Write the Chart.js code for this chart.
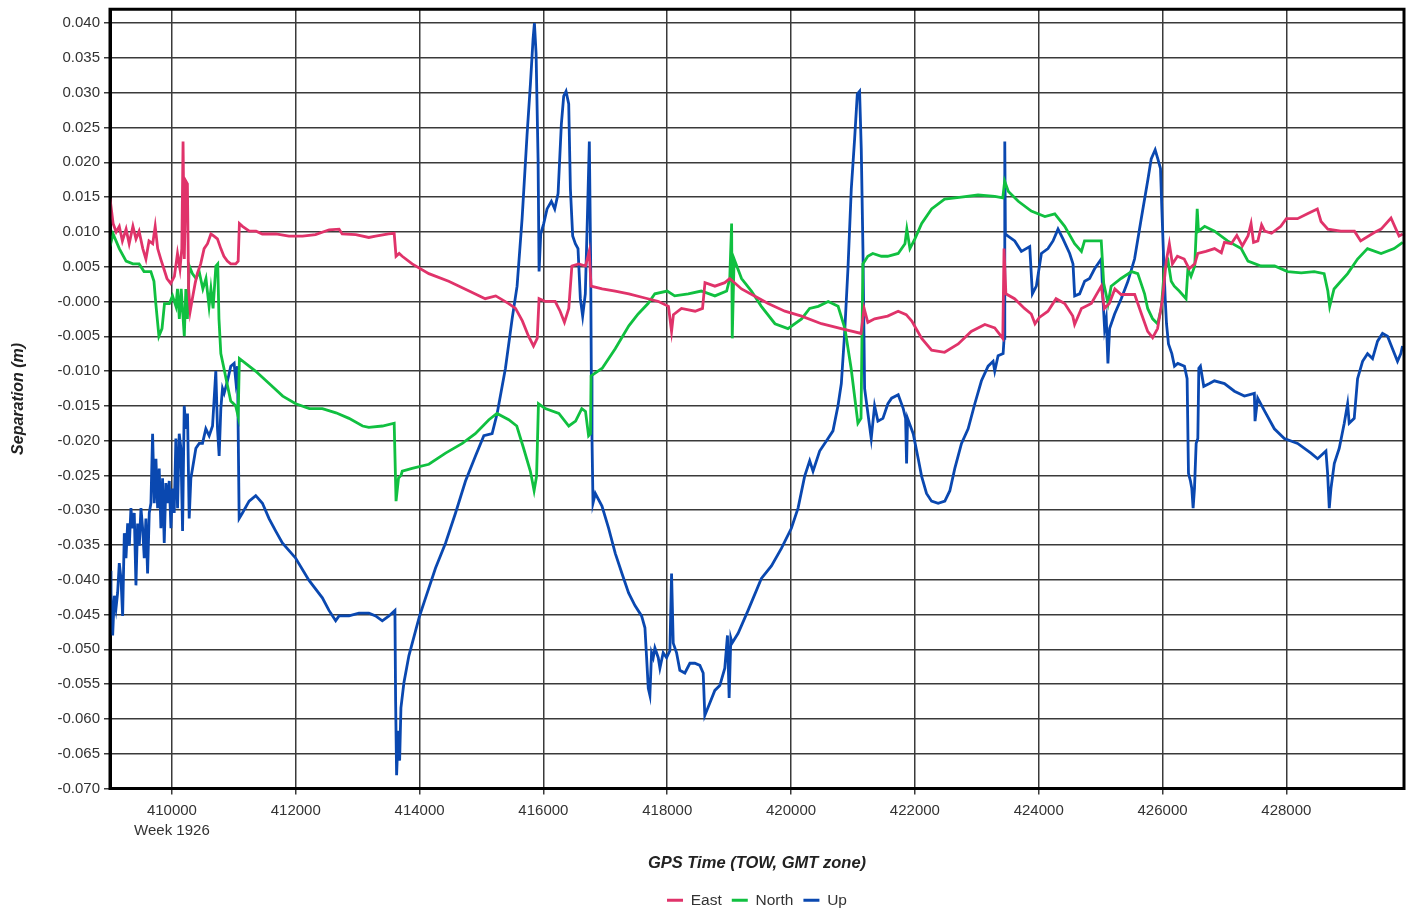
<!DOCTYPE html>
<html lang="en">
<head>
    <meta charset="UTF-8">
    <title>Separation</title>
    <script src="https://cdn.jsdelivr.net/npm/chart.js@4.4.0/dist/chart.umd.min.js"></script>
    <style>
        body {
            margin: 0;
            background: #fff;
            overflow: hidden;
        }

        .chart-container {
            position: relative;
            width: 1412px;
            height: 913px;
        }
    </style>
</head>
<body>
    <div class="chart-container">
        <canvas id="sepChart"></canvas>
    </div>

    <script>
        // [GPS time of week, separation in m]
        const east = [
            [409000, 0.0148], [409050, 0.0112], [409100, 0.0100], [409150, 0.0108], [409200, 0.0087], [409260, 0.0104],
            [409310, 0.0083], [409370, 0.0108], [409420, 0.0090], [409470, 0.0101], [409530, 0.0076], [409580, 0.0061],
            [409630, 0.0087], [409690, 0.0083], [409730, 0.0108], [409770, 0.0076], [409820, 0.0061], [409870, 0.0047],
            [409920, 0.0033], [409980, 0.0026], [410040, 0.0036], [410090, 0.0069], [410130, 0.0047], [410160, 0.0076],
            [410180, 0.0230], [410200, 0.0061], [410225, 0.0173], [410250, 0.0169], [410270, 0.0018], [410295, -0.0014],
            [410330, 0.0004], [410375, 0.0026], [410410, 0.0040], [410465, 0.0054], [410520, 0.0076], [410575, 0.0083],
            [410630, 0.0097], [410680, 0.0094], [410735, 0.0090], [410790, 0.0076], [410840, 0.0065], [410895, 0.0058],
            [410950, 0.0054], [411030, 0.0054], [411070, 0.0058], [411090, 0.0112], [411140, 0.0108], [411250, 0.0101],
            [411360, 0.0101], [411460, 0.0097], [411680, 0.0097], [411890, 0.0094], [412110, 0.0094], [412320, 0.0096],
            [412540, 0.0103], [412700, 0.0104], [412750, 0.0097], [412970, 0.0096], [413180, 0.0092], [413290, 0.0094],
            [413500, 0.0097], [413590, 0.0098], [413620, 0.0065], [413670, 0.0069], [413720, 0.0065], [413880, 0.0054],
            [414150, 0.0040], [414470, 0.0029], [414800, 0.0015], [415060, 0.0004], [415230, 0.0008], [415440, -0.0003],
            [415550, -0.0010], [415660, -0.0028], [415760, -0.0050], [415840, -0.0064], [415900, -0.0053], [415930, 0.0004],
            [416030, 0.0000], [416190, 0.0000], [416270, -0.0014], [416340, -0.0030], [416410, -0.0010], [416460, 0.0051],
            [416570, 0.0054], [416680, 0.0051], [416740, 0.0072], [416770, 0.0022], [416950, 0.0018], [417160, 0.0015],
            [417380, 0.0011], [417640, 0.0005], [417860, 0.0000], [418020, -0.0007], [418070, -0.0043], [418100, -0.0019],
            [418230, -0.0010], [418450, -0.0014], [418570, -0.0010], [418610, 0.0027], [418770, 0.0022], [418930, 0.0027],
            [419010, 0.0033], [419200, 0.0018], [419410, 0.0008], [419630, -0.0003], [419900, -0.0014], [420170, -0.0021],
            [420490, -0.0032], [420810, -0.0039], [421130, -0.0046], [421180, -0.0010], [421240, -0.0030], [421350, -0.0025],
            [421560, -0.0021], [421730, -0.0014], [421860, -0.0019], [421950, -0.0028], [422110, -0.0053], [422270, -0.0070],
            [422480, -0.0073], [422700, -0.0061], [422910, -0.0043], [423130, -0.0033], [423290, -0.0038], [423420, -0.0053],
            [423440, 0.0076], [423470, 0.0011], [423610, 0.0004], [423770, -0.0010], [423880, -0.0018], [423940, -0.0032],
            [424010, -0.0023], [424150, -0.0014], [424280, 0.0004], [424420, -0.0003], [424550, -0.0021], [424580, -0.0033],
            [424690, -0.0010], [424850, -0.0003], [425010, 0.0022], [425060, -0.0010], [425140, -0.0003], [425230, 0.0018],
            [425330, 0.0010], [425550, 0.0010], [425660, -0.0018], [425760, -0.0043], [425840, -0.0052], [425920, -0.0039],
            [426000, 0.0004], [426060, 0.0058], [426110, 0.0083], [426160, 0.0054], [426240, 0.0065], [426350, 0.0061],
            [426430, 0.0047], [426520, 0.0054], [426570, 0.0069], [426700, 0.0072], [426840, 0.0076], [426950, 0.0070],
            [427000, 0.0085], [427110, 0.0083], [427200, 0.0095], [427290, 0.0080], [427380, 0.0094], [427430, 0.0112],
            [427470, 0.0085], [427540, 0.0087], [427600, 0.0110], [427650, 0.0101], [427760, 0.0098], [427910, 0.0108],
            [428000, 0.0119], [428180, 0.0119], [428340, 0.0126], [428500, 0.0133], [428560, 0.0115], [428670, 0.0104],
            [428880, 0.0101], [429100, 0.0101], [429200, 0.0087], [429420, 0.0099], [429530, 0.0104], [429690, 0.0120],
            [429770, 0.0104], [429820, 0.0094], [429880, 0.0097]
        ];

        const north = [
            [409000, 0.0079], [409050, 0.0097], [409150, 0.0076], [409260, 0.0058], [409370, 0.0054], [409470, 0.0054],
            [409550, 0.0043], [409660, 0.0043], [409710, 0.0029], [409740, -0.0003], [409790, -0.0050], [409840, -0.0039],
            [409880, -0.0003], [409960, -0.0003], [410010, 0.0008], [410065, -0.0007], [410090, 0.0018], [410120, -0.0025],
            [410150, 0.0018], [410170, -0.0010], [410200, -0.0050], [410225, 0.0018], [410250, -0.0025], [410280, 0.0051],
            [410330, 0.0040], [410390, 0.0033], [410440, 0.0043], [410500, 0.0018], [410550, 0.0033], [410600, -0.0007],
            [410630, 0.0018], [410665, -0.0010], [410710, 0.0051], [410740, 0.0054], [410760, -0.0025], [410790, -0.0075],
            [410840, -0.0096], [410900, -0.0122], [410950, -0.0143], [411030, -0.0150], [411070, -0.0165], [411090, -0.0082],
            [411190, -0.0089], [411350, -0.0100], [411570, -0.0118], [411790, -0.0136], [412000, -0.0147], [412220, -0.0154],
            [412430, -0.0154], [412650, -0.0160], [412860, -0.0168], [413080, -0.0179], [413180, -0.0181], [413400, -0.0179],
            [413590, -0.0175], [413620, -0.0287], [413660, -0.0254], [413700, -0.0250], [413720, -0.0244], [413880, -0.0240],
            [414150, -0.0234], [414420, -0.0218], [414690, -0.0204], [414900, -0.0190], [415120, -0.0170], [415250, -0.0161],
            [415440, -0.0170], [415570, -0.0179], [415680, -0.0211], [415790, -0.0244], [415850, -0.0272], [415890, -0.0251],
            [415920, -0.0147], [416030, -0.0154], [416250, -0.0161], [416410, -0.0179], [416520, -0.0172], [416620, -0.0154],
            [416680, -0.0158], [416730, -0.0193], [416760, -0.0190], [416770, -0.0107], [416950, -0.0096], [417160, -0.0068],
            [417380, -0.0035], [417530, -0.0018], [417690, -0.0003], [417800, 0.0011], [418000, 0.0015], [418120, 0.0008],
            [418340, 0.0011], [418550, 0.0015], [418770, 0.0008], [418960, 0.0015], [419010, 0.0033], [419040, 0.0112],
            [419050, -0.0053], [419080, 0.0061], [419200, 0.0033], [419360, 0.0015], [419520, -0.0007], [419740, -0.0032],
            [419950, -0.0039], [420170, -0.0025], [420300, -0.0010], [420440, -0.0007], [420600, 0.0000], [420760, -0.0007],
            [420870, -0.0039], [420970, -0.0096], [421080, -0.0175], [421130, -0.0168], [421160, 0.0054], [421240, 0.0065],
            [421320, 0.0069], [421460, 0.0065], [421560, 0.0065], [421730, 0.0069], [421840, 0.0083], [421870, 0.0104],
            [421920, 0.0076], [422000, 0.0090], [422110, 0.0112], [422270, 0.0133], [422480, 0.0147], [422750, 0.0150],
            [423020, 0.0153], [423290, 0.0151], [423420, 0.0149], [423450, 0.0173], [423510, 0.0158], [423670, 0.0144],
            [423880, 0.0130], [424100, 0.0122], [424260, 0.0126], [424420, 0.0108], [424580, 0.0083], [424690, 0.0072],
            [424740, 0.0087], [425010, 0.0087], [425050, 0.0026], [425120, -0.0003], [425170, 0.0022], [425330, 0.0033],
            [425500, 0.0043], [425600, 0.0040], [425710, 0.0011], [425760, -0.0010], [425840, -0.0025], [425920, -0.0032],
            [425980, -0.0010], [426030, 0.0047], [426090, 0.0058], [426140, 0.0029], [426190, 0.0022], [426270, 0.0015],
            [426380, 0.0004], [426410, 0.0047], [426460, 0.0036], [426520, 0.0051], [426560, 0.0133], [426580, 0.0101],
            [426680, 0.0108], [426840, 0.0101], [427050, 0.0087], [427270, 0.0076], [427380, 0.0058], [427590, 0.0051],
            [427810, 0.0051], [428020, 0.0043], [428240, 0.0041], [428450, 0.0043], [428610, 0.0040], [428670, 0.0015],
            [428700, -0.0007], [428770, 0.0018], [428880, 0.0029], [428990, 0.0040], [429150, 0.0061], [429310, 0.0076],
            [429530, 0.0069], [429740, 0.0076], [429880, 0.0085]
        ];

        const up = [
            [409000, -0.0387], [409016, -0.0419], [409043, -0.0480], [409070, -0.0423], [409097, -0.0441], [409123, -0.0419],
            [409150, -0.0376], [409177, -0.0398], [409204, -0.0452], [409231, -0.0333], [409258, -0.0369], [409285, -0.0319],
            [409312, -0.0351], [409338, -0.0297], [409365, -0.0326], [409392, -0.0304], [409419, -0.0408], [409446, -0.0319],
            [409473, -0.0351], [409500, -0.0297], [409527, -0.0326], [409553, -0.0369], [409580, -0.0312], [409607, -0.0391],
            [409634, -0.0304], [409661, -0.0290], [409688, -0.0190], [409715, -0.0290], [409742, -0.0226], [409769, -0.0297],
            [409795, -0.0240], [409822, -0.0326], [409849, -0.0254], [409876, -0.0347], [409903, -0.0261], [409930, -0.0290],
            [409957, -0.0258], [409984, -0.0326], [410010, -0.0269], [410037, -0.0304], [410064, -0.0197], [410091, -0.0297],
            [410118, -0.0190], [410145, -0.0211], [410172, -0.0330], [410199, -0.0150], [410226, -0.0183], [410252, -0.0161],
            [410279, -0.0312], [410306, -0.0254], [410333, -0.0240], [410387, -0.0211], [410441, -0.0204], [410494, -0.0204],
            [410548, -0.0183], [410602, -0.0193], [410656, -0.0179], [410709, -0.0100], [410736, -0.0183], [410763, -0.0222],
            [410790, -0.0154], [410817, -0.0125], [410844, -0.0132], [410898, -0.0114], [410951, -0.0093], [411005, -0.0089],
            [411032, -0.0114], [411059, -0.0093], [411086, -0.0312], [411139, -0.0304], [411247, -0.0287], [411354, -0.0279],
            [411462, -0.0290], [411569, -0.0312], [411677, -0.0330], [411784, -0.0347], [411999, -0.0369], [412215, -0.0401],
            [412430, -0.0426], [412537, -0.0444], [412645, -0.0459], [412699, -0.0452], [412860, -0.0452], [413021, -0.0448],
            [413182, -0.0448], [413290, -0.0452], [413398, -0.0459], [413506, -0.0452], [413602, -0.0444], [413613, -0.0573],
            [413629, -0.0681], [413656, -0.0617], [413678, -0.0660], [413699, -0.0584], [413747, -0.0548], [413828, -0.0509],
            [413936, -0.0473], [414000, -0.0452], [414097, -0.0426], [414258, -0.0383], [414420, -0.0347], [414581, -0.0304],
            [414742, -0.0258], [414903, -0.0222], [415038, -0.0193], [415172, -0.0190], [415253, -0.0161], [415387, -0.0096],
            [415495, -0.0025], [415575, 0.0022], [415656, 0.0119], [415737, 0.0241], [415790, 0.0312], [415833, 0.0377],
            [415855, 0.0400], [415882, 0.0356], [415914, 0.0205], [415930, 0.0043], [415957, 0.0097], [416005, 0.0112],
            [416059, 0.0133], [416129, 0.0144], [416183, 0.0133], [416237, 0.0155], [416290, 0.0255], [416328, 0.0295],
            [416366, 0.0302], [416409, 0.0284], [416436, 0.0162], [416473, 0.0094], [416516, 0.0083], [416559, 0.0076],
            [416597, 0.0004], [416634, -0.0021], [416677, 0.0011], [416710, 0.0119], [416742, 0.0230], [416763, 0.0061],
            [416774, -0.0104], [416785, -0.0197], [416801, -0.0290], [416839, -0.0276], [416946, -0.0294], [417054, -0.0326],
            [417161, -0.0362], [417269, -0.0391], [417376, -0.0419], [417479, -0.0437], [417586, -0.0452], [417640, -0.0469],
            [417667, -0.0512], [417694, -0.0556], [417720, -0.0566], [417747, -0.0505], [417774, -0.0512], [417801, -0.0498],
            [417855, -0.0512], [417882, -0.0527], [417935, -0.0505], [417989, -0.0512], [418043, -0.0502], [418070, -0.0391],
            [418097, -0.0491], [418151, -0.0505], [418204, -0.0530], [418285, -0.0534], [418366, -0.0520], [418446, -0.0520],
            [418527, -0.0523], [418581, -0.0534], [418607, -0.0595], [418688, -0.0577], [418769, -0.0559], [418849, -0.0552],
            [418930, -0.0527], [418973, -0.0480], [419000, -0.0570], [419027, -0.0484], [419048, -0.0491], [419145, -0.0477],
            [419306, -0.0444], [419521, -0.0398], [419683, -0.0380], [419844, -0.0355], [420005, -0.0326], [420113, -0.0297],
            [420220, -0.0251], [420301, -0.0229], [420355, -0.0244], [420462, -0.0215], [420597, -0.0197], [420677, -0.0186],
            [420758, -0.0150], [420812, -0.0118], [420865, -0.0046], [420919, 0.0047], [420973, 0.0162], [421027, 0.0234],
            [421070, 0.0298], [421107, 0.0302], [421134, 0.0219], [421161, 0.0076], [421188, -0.0125], [421231, -0.0154],
            [421295, -0.0197], [421349, -0.0150], [421403, -0.0172], [421484, -0.0168], [421564, -0.0147], [421624, -0.0139],
            [421731, -0.0134], [421812, -0.0154], [421850, -0.0168], [421866, -0.0233], [421882, -0.0168], [421973, -0.0190],
            [422054, -0.0226], [422108, -0.0251], [422188, -0.0276], [422269, -0.0287], [422376, -0.0290], [422484, -0.0287],
            [422565, -0.0272], [422645, -0.0240], [422753, -0.0204], [422860, -0.0183], [422968, -0.0147], [423075, -0.0114],
            [423183, -0.0093], [423263, -0.0086], [423290, -0.0100], [423344, -0.0078], [423425, -0.0075], [423441, -0.0053],
            [423452, 0.0230], [423462, 0.0097], [423505, 0.0094], [423613, 0.0087], [423720, 0.0072], [423855, 0.0079],
            [423898, 0.0011], [423962, 0.0022], [424043, 0.0069], [424150, 0.0076], [424231, 0.0087], [424312, 0.0104],
            [424392, 0.0090], [424500, 0.0069], [424554, 0.0054], [424581, 0.0008], [424661, 0.0011], [424742, 0.0029],
            [424822, 0.0033], [424903, 0.0047], [425011, 0.0061], [425038, 0.0004], [425064, -0.0039], [425091, -0.0025],
            [425118, -0.0089], [425145, -0.0039], [425226, -0.0018], [425333, 0.0004], [425441, 0.0029], [425548, 0.0061],
            [425656, 0.0119], [425763, 0.0175], [425817, 0.0205], [425881, 0.0218], [425924, 0.0205], [425967, 0.0191],
            [425989, 0.0133], [426021, 0.0054], [426043, 0.0004], [426064, -0.0032], [426096, -0.0061], [426150, -0.0075],
            [426193, -0.0093], [426247, -0.0089], [426354, -0.0093], [426397, -0.0111], [426419, -0.0247], [426451, -0.0258],
            [426473, -0.0269], [426494, -0.0297], [426516, -0.0269], [426543, -0.0204], [426570, -0.0197], [426586, -0.0096],
            [426612, -0.0093], [426666, -0.0122], [426758, -0.0118], [426838, -0.0114], [427000, -0.0118], [427161, -0.0129],
            [427322, -0.0136], [427483, -0.0132], [427494, -0.0172], [427537, -0.0139], [427645, -0.0157], [427806, -0.0183],
            [427967, -0.0197], [428182, -0.0204], [428397, -0.0218], [428505, -0.0226], [428639, -0.0215], [428666, -0.0247],
            [428693, -0.0297], [428720, -0.0269], [428774, -0.0233], [428854, -0.0211], [428935, -0.0175], [428989, -0.0147],
            [429015, -0.0175], [429096, -0.0168], [429150, -0.0111], [429231, -0.0086], [429311, -0.0075], [429392, -0.0082],
            [429473, -0.0057], [429553, -0.0046], [429634, -0.0050], [429714, -0.0068], [429795, -0.0086], [429849, -0.0075],
            [429876, -0.0064]
        ];

        const xTicks = [410000, 412000, 414000, 416000, 418000, 420000, 422000, 424000, 426000, 428000];
        const weekLabel = 'Week 1926';
        const yTicks = [-0.070, -0.065, -0.060, -0.055, -0.050, -0.045, -0.040, -0.035, -0.030, -0.025, -0.020, -0.015,
            -0.010, -0.005, 0, 0.005, 0.010, 0.015, 0.020, 0.025, 0.030, 0.035, 0.040];
        const yLabels = ['-0.070', '-0.065', '-0.060', '-0.055', '-0.050', '-0.045', '-0.040', '-0.035', '-0.030', '-0.025',
            '-0.020', '-0.015', '-0.010', '-0.005', '-0.000', '0.005', '0.010', '0.015', '0.020', '0.025', '0.030', '0.035', '0.040'];

        const toPoints = arr => arr.map(p => ({ x: p[0], y: p[1] }));

        // black box round the plot area
        const frame = {
            id: 'frame',
            afterDatasetsDraw(chart) {
                const { ctx, chartArea: a } = chart;
                ctx.save();
                ctx.strokeStyle = '#000';
                ctx.lineWidth = 3;
                ctx.strokeRect(a.left, a.top, a.right - a.left, a.bottom - a.top);
                ctx.restore();
            }
        };

        const gridColor = '#3a3a3a';
        const textColor = '#333';
        const lineW = 2.8;

        new Chart(document.getElementById('sepChart'), {
            type: 'line',
            data: {
                datasets: [
                    { label: 'East', data: toPoints(east), borderColor: '#e0336a', backgroundColor: '#e0336a', borderWidth: lineW },
                    { label: 'North', data: toPoints(north), borderColor: '#10c040', backgroundColor: '#10c040', borderWidth: lineW },
                    { label: 'Up', data: toPoints(up), borderColor: '#0a48b0', backgroundColor: '#0a48b0', borderWidth: lineW }
                ]
            },
            options: {
                responsive: true,
                maintainAspectRatio: false,
                animation: false,
                layout: { padding: { top: 0, right: 8, left: 0, bottom: -5 } },
                elements: {
                    point: { radius: 0 },
                    line: { tension: 0 }
                },
                scales: {
                    x: {
                        type: 'linear',
                        min: 409000,
                        max: 429900,
                        afterBuildTicks: axis => { axis.ticks = xTicks.map(v => ({ value: v })); },
                        afterFit: scale => { scale.height = 94; },
                        ticks: {
                            color: textColor,
                            font: { family: 'Liberation Sans', size: 15, lineHeight: 1.35 },
                            padding: 6,
                            maxRotation: 0,
                            callback: (v, i) => i === 0 ? [String(v), weekLabel] : String(v)
                        },
                        grid: { color: gridColor, lineWidth: 1.5, tickLength: 6 },
                        border: { color: '#000', width: 3 },
                        title: {
                            display: true,
                            text: 'GPS Time (TOW, GMT zone)',
                            color: '#222',
                            font: { family: 'Liberation Sans', size: 16.5, weight: 'bold', style: 'italic' },
                            padding: { top: 10, bottom: 9 }
                        }
                    },
                    y: {
                        min: -0.070,
                        max: 0.042,
                        afterBuildTicks: axis => { axis.ticks = yTicks.map(v => ({ value: v })); },
                        afterFit: scale => { scale.width = 110; },
                        ticks: {
                            color: textColor,
                            font: { family: 'Liberation Sans', size: 15, lineHeight: 0.7 },
                            padding: 4,
                            callback: (v, i) => yLabels[i]
                        },
                        grid: { color: gridColor, lineWidth: 1.5, tickLength: 6 },
                        border: { color: '#000', width: 3 },
                        title: {
                            display: true,
                            text: 'Separation (m)',
                            color: '#222',
                            font: { family: 'Liberation Sans', size: 16, weight: 'bold', style: 'italic' },
                            padding: { top: 9, bottom: 0 }
                        }
                    }
                },
                plugins: {
                    legend: {
                        position: 'bottom',
                        fullSize: false,
                        labels: {
                            usePointStyle: true,
                            pointStyle: 'line',
                            pointStyleWidth: 16,
                            color: textColor,
                            font: { family: 'Liberation Sans', size: 15.5 },
                            padding: 10
                        }
                    },
                    tooltip: { enabled: false }
                }
            },
            plugins: [frame]
        });
    </script>
</body>
</html>
